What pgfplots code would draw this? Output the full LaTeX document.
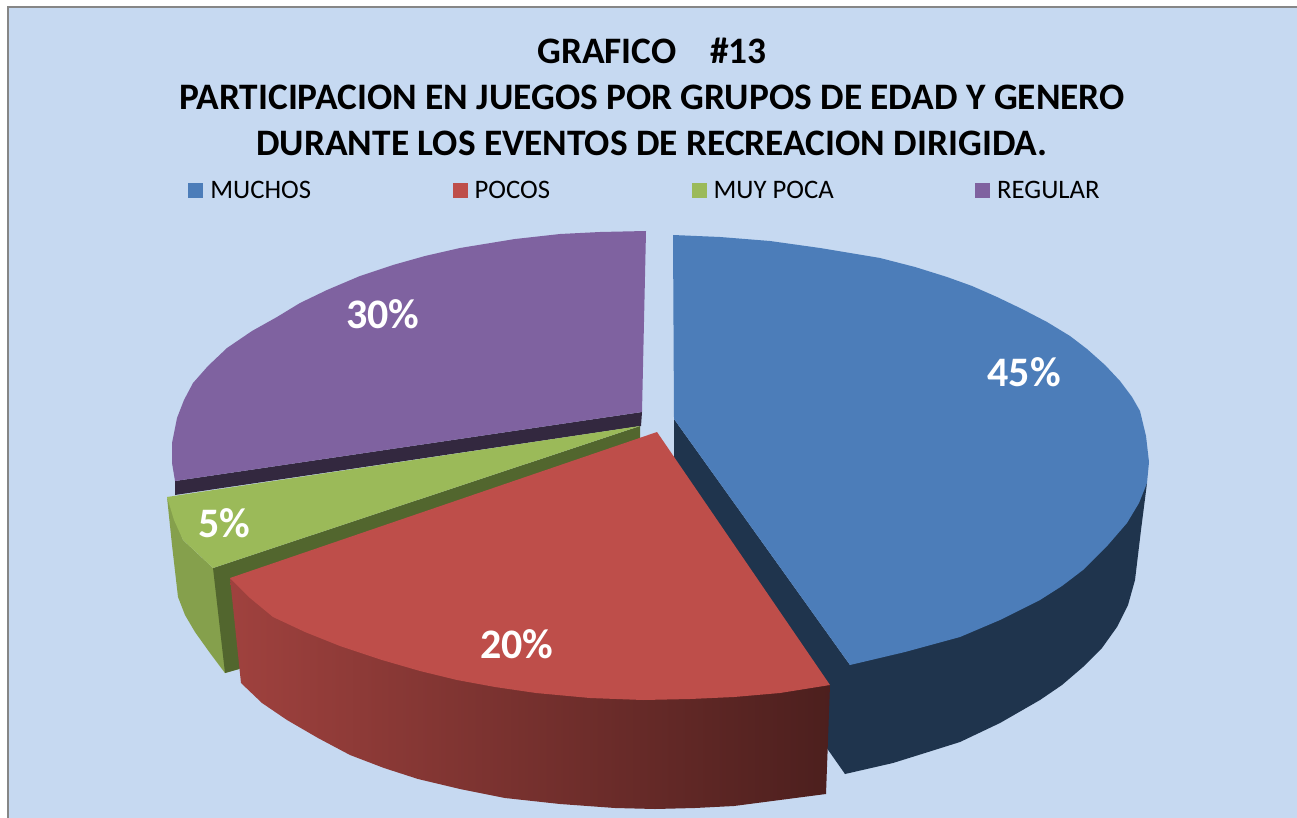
\documentclass[border=0pt]{standalone}
\usepackage{fontspec}
\setmainfont{Carlito}
\usepackage{pgfplots}
\pgfplotsset{compat=1.18}
\definecolor{fondo}{HTML}{C6D9F1}
\definecolor{azul}{HTML}{4C7DB9}
\definecolor{azulosc}{HTML}{1F344D}
\definecolor{rojo}{HTML}{BE4E4A}
\definecolor{verde}{HTML}{9BBA59}
\definecolor{verdelado}{HTML}{85A04C}
\definecolor{verdeosc}{HTML}{52662E}
\definecolor{morado}{HTML}{7F62A0}
\definecolor{moradoosc}{HTML}{33283F}
\tikzset{white label/.style={text=white, font=\fontsize{42}{44}\selectfont\bfseries}}
\begin{document}
\begin{tikzpicture}
\begin{axis}[
  scale only axis, width=1297pt, height=818pt,
  xmin=0, xmax=1297, ymin=0, ymax=818, y dir=reverse,
  hide axis, clip=true,
  area legend,
  legend columns=4,
  legend cell align=left,
  legend image code/.code={\fill[#1] (0pt,-7.5pt) rectangle (15pt,7.5pt); \path (22pt,0pt);},
  legend style={draw=none, fill=none, at={(0.4965,0.7675)}, anchor=center,
    font=\fontsize{26.7}{29}\selectfont,
    /tikz/every even column/.append style={column sep=141.5pt},
    nodes={inner xsep=0pt, inner ysep=1pt}},
]
% fondo
\addplot[forget plot, fill=fondo, draw=gray!95, line width=2.5pt] coordinates {(8,7) (1320,7) (1320,840) (8,840)} -- cycle;

% caras laterales
\addplot[forget plot, fill=azulosc, draw=none] coordinates {(1147,483) (1141,530) (1135,580) (1128,605) (1117,627) (1102,648) (1083,667) (1062,685) (1040,700) (1000,723) (960,742) (925,753) (893,763) (845,774) (838,720) (850,665)} -- cycle;
\addplot[forget plot, fill=azulosc, draw=none] coordinates {(674,419) (850,665) (845,774) (674,530)} -- cycle;
\addplot[forget plot, fill=verdelado, draw=none] coordinates {(167,497) (172,545) (178,597) (185,615) (195,632) (210,653) (225,673) (239,669) (229,575) (213,568) (183,540)} -- cycle;
\addplot[forget plot, fill=verdeosc, draw=none] coordinates {(213,568) (640,426) (640,440) (239,669) (225,673)} -- cycle;
\addplot[forget plot, fill=moradoosc, draw=none] coordinates {(175,481) (642,412) (641,426) (175,495)} -- cycle;
\addplot[forget plot, draw=none, left color=rojo!84!black, middle color=rojo!62!black, right color=rojo!40!black] coordinates {(230,578) (241,683) (262,703) (287,720) (318,738) (350,755) (384,768) (418,779) (460,789) (505,798) (560,804) (615,808) (655,809) (695,808) (734,806) (780,800) (826,794) (830,685)} -- cycle;

% caras superiores
\addplot[fill=azul, draw=none] coordinates {(673,235) (720,237) (770,241) (820,248) (880,258) (915,267) (947,277) (972,286) (997,297) (1022,309) (1047,322) (1070,336) (1087,349) (1105,365) (1120,381) (1132,397) (1140,411) (1146,436) (1149,462) (1147,483) (1139,503) (1127,523) (1108,545) (1083,570) (1062,586) (1040,600) (1000,620) (960,637) (905,652) (850,665) (674,419)} -- cycle;
\addlegendentry{MUCHOS}
\addplot[fill=rojo, draw=none] coordinates {(230,578) (657,432) (830,685) (780,693) (734,697) (690,699) (643,700) (590,698) (536,693) (495,687) (457,680) (420,671) (382,660) (340,646) (305,632) (273,617) (250,598)} -- cycle;
\addlegendentry{POCOS}
\addplot[fill=verde, draw=none] coordinates {(167,497) (640,426) (213,568) (197,553) (183,540) (174,520)} -- cycle;
\addlegendentry{MUY POCA}
\addplot[fill=morado, draw=none] coordinates {(646,231) (600,232) (560,234) (515,239) (460,248) (425,256) (393,265) (360,276) (327,290) (300,303) (277,317) (252,331) (227,348) (208,366) (193,383) (184,400) (177,418) (172,443) (172,463) (175,481) (642,412)} -- cycle;
\addlegendentry{REGULAR}

\node[white label] at (axis cs:1024,372) {45\%};
\node[white label] at (axis cs:517,644) {20\%};
\node[white label] at (axis cs:224,523) {5\%};
\node[white label] at (axis cs:383,314) {30\%};

\node[align=center, font=\fontsize{37.35}{46}\selectfont\bfseries] at (axis cs:652,97)
  {GRAFICO~~~~\#13\\PARTICIPACION EN JUEGOS POR GRUPOS DE EDAD Y GENERO\\DURANTE LOS EVENTOS DE RECREACION DIRIGIDA.};
\end{axis}
\pgfresetboundingbox
\useasboundingbox (0,0) rectangle (1297pt,818pt);
\end{tikzpicture}
\end{document}
